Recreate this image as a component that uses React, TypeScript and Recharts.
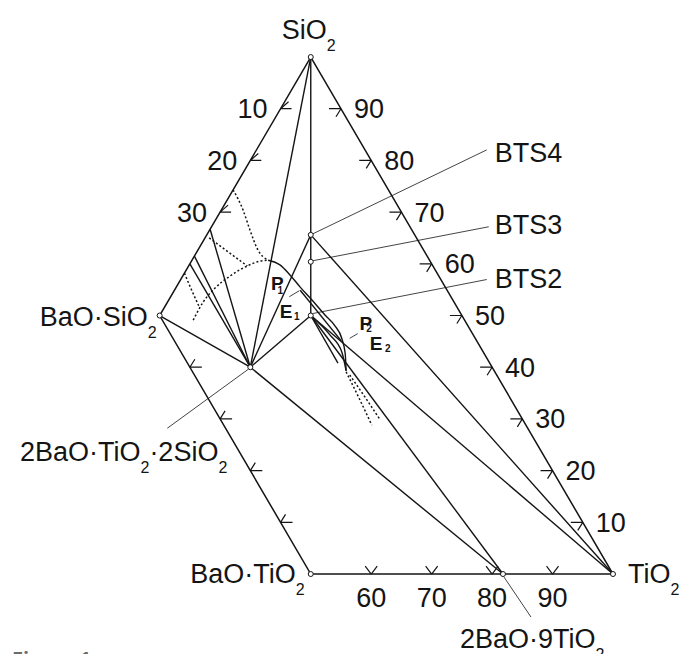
import { ComposedChart, Line, Scatter, XAxis, YAxis } from 'recharts';

const WIDTH = 681;
const HEIGHT = 654;
const INK = '#141414';
const FONT = '"Liberation Sans", Arial, sans-serif';

// Compositions in mol%: si = SiO2, ti = TiO2, BaO is the remainder.
const COMPOUNDS = [
  { name: 'SiO2', si: 100, ti: 0 },
  { name: 'TiO2', si: 0, ti: 100 },
  { name: 'BaO·SiO2', si: 50, ti: 0 },
  { name: 'BaO·TiO2', si: 0, ti: 50 },
  { name: '2BaO·9TiO2', si: 0, ti: 81.8 },
  { name: '2BaO·TiO2·2SiO2', si: 40, ti: 20 },
  { name: 'BTS4', si: 65.6, ti: 17.2 },
  { name: 'BTS3', si: 60.4, ti: 19.8 },
  { name: 'BTS2', si: 50, ti: 25 },
];

// silicate phases on the BaO–SiO2 side (no marker drawn)
const BARIUM_SILICATES = [
  { name: 'BaO·2SiO2', si: 66.7, ti: 0 },
  { name: '5BaO·8SiO2', si: 61.5, ti: 0 },
  { name: '2BaO·3SiO2', si: 60, ti: 0 },
];

const BORDER = ['SiO2', 'BaO·SiO2', 'BaO·TiO2', 'TiO2', 'SiO2'];

const TIE_LINES = [
  ['SiO2', '2BaO·TiO2·2SiO2'],
  ['SiO2', 'BTS2'],
  ['BaO·SiO2', '2BaO·TiO2·2SiO2'],
  ['BaO·2SiO2', '2BaO·TiO2·2SiO2'],
  ['5BaO·8SiO2', '2BaO·TiO2·2SiO2'],
  ['2BaO·3SiO2', '2BaO·TiO2·2SiO2'],
  ['2BaO·TiO2·2SiO2', 'BTS4'],
  ['2BaO·TiO2·2SiO2', 'BTS2'],
  ['2BaO·TiO2·2SiO2', '2BaO·9TiO2'],
  ['BTS4', 'TiO2'],
  ['BTS2', 'TiO2'],
  ['BTS2', '2BaO·9TiO2'],
];

// boundary curves, [SiO2, TiO2] pairs
const SOLID_CURVES = [
  [[60.7, 12.6], [59.8, 15.0], [57.8, 17.7], [55.5, 20.5], [53.0, 23.7], [50.1, 27.3], [48.0, 30.0], [45.5, 32.4], [42.6, 34.4], [39.3, 36.2]],
  [[54.9, 20.8], [45.1, 32.5]],
  [[50, 25], [46.2, 30.1], [42.9, 33.7], [39.3, 36.2]],
  [[50, 25], [40.8, 34.1]],
];

const DOTTED_CURVES = [
  [[49.1, 6.0], [52.6, 5.9], [55.3, 6.5], [57.6, 7.8], [59.6, 9.7], [60.5, 11.3], [60.7, 12.6]],
  [[74.3, 0], [70.4, 3.6], [66.5, 6.7], [62.7, 9.9], [60.7, 12.6]],
  [[65.0, 0.7], [62.3, 5.2], [59.6, 9.7]],
  [[58.2, 0], [55.3, 2.5], [51.8, 5.6]],
  [[39.1, 36.3], [34.0, 41.0], [28.8, 45.7]],
  [[38.5, 37.2], [34.0, 42.1], [29.8, 46.6]],
];

const INVARIANT_POINTS = [
  { name: 'P1', si: 55.2, ti: 20.6 },
  { name: 'E1', si: 50, ti: 25 },
  { name: 'P2', si: 45.3, ti: 32.6 },
  { name: 'E2', si: 39.3, ti: 36.2 },
];

const BAO_TICKS = [10, 20, 30];
const TIO2_SIDE_TICKS = [10, 20, 30, 40];
const SIO2_TICKS = [90, 80, 70, 60, 50, 40, 30, 20, 10];
const TIO2_BASE_TICKS = [60, 70, 80, 90];

// ternary -> cartesian (BaO·TiO2–TiO2 base horizontal)
const toXY = (c: { si: number; ti: number }) => ({ x: c.ti / 100 + c.si / 200, y: c.si / 100 });
const X_DOMAIN = [-0.0141, 1.1125];
const Y_DOMAIN = [-0.1547, 1.1103];

const PHASES = [...COMPOUNDS, ...BARIUM_SILICATES];
const phase = (name: string) => PHASES.find((p) => p.name === name)!;
const curve = (pts: number[][]) => pts.map(([si, ti]) => toXY({ si, ti }));

type Layout = { dx: number; dy: number; anchor: 'start' | 'middle' | 'end'; chem: boolean; leader?: number[] };
const LABEL_LAYOUT: Record<string, Layout> = {
  'SiO2': { dx: -29, dy: -18, anchor: 'start', chem: true },
  'BaO·SiO2': { dx: -3, dy: 10, anchor: 'end', chem: true },
  'BaO·TiO2': { dx: -6, dy: 9, anchor: 'end', chem: true },
  'TiO2': { dx: 15, dy: 9, anchor: 'start', chem: true },
  '2BaO·9TiO2': { dx: -43, dy: 74, anchor: 'start', chem: true, leader: [1, 3, 28, 43] },
  '2BaO·TiO2·2SiO2': { dx: -23, dy: 94, anchor: 'end', chem: true, leader: [-2, 2, -83, 61] },
  'BTS4': { dx: 184, dy: -73, anchor: 'start', chem: false, leader: [2, -1, 176, -85] },
  'BTS3': { dx: 184, dy: -28, anchor: 'start', chem: false, leader: [2, -1, 178, -35] },
  'BTS2': { dx: 184, dy: -27.5, anchor: 'start', chem: false, leader: [2, -2, 176, -36] },
};

const INVARIANT_LAYOUT: Record<string, { dx: number; dy: number; sdx: number; sdy: number; leader?: number[] }> = {
  P1: { dx: -29, dy: 1.5, sdx: -6, sdy: 3.5, leader: [-10.6, 8.1, -0.6, 2.1] },
  E1: { dx: -31, dy: 2.8, sdx: 1.5, sdy: 1.7 },
  P2: { dx: 17, dy: -9.8, sdx: -6, sdy: 2, leader: [7.2, -1.5, 15.2, -6.2] },
  E2: { dx: 23.7, dy: -20.8, sdx: 2.5, sdy: 1.7 },
};

// split a formula into normal text and subscript digits
const chemParts = (s: string) => {
  const parts: { t: string; sub: boolean }[] = [];
  for (let i = 0; i < s.length; i++) {
    const ch = s[i];
    const sub = /\d/.test(ch) && i > 0 && /[A-Za-z]/.test(s[i - 1]);
    const last = parts[parts.length - 1];
    if (last && last.sub === sub) last.t += ch;
    else parts.push({ t: ch, sub });
  }
  return parts;
};

const ChemText = ({ x, y, text, anchor, chem }: any) => {
  const parts = chem ? chemParts(text) : [{ t: text, sub: false }];
  let shifted = false;
  return (
    <text x={x} y={y} textAnchor={anchor} fontFamily={FONT} fontSize={27} fill={INK}>
      {parts.map((p, i) => {
        const dy = p.sub ? (shifted ? 0 : 12) : shifted ? -12 : 0;
        shifted = p.sub;
        return (
          <tspan key={i} dy={dy} fontSize={p.sub ? 16 : 27}>
            {p.t}
          </tspan>
        );
      })}
    </text>
  );
};

const CompoundLabel = (props: any) => {
  const { cx, cy, payload } = props;
  const l = LABEL_LAYOUT[payload.name];
  if (!l) return <g />;
  return (
    <g>
      {l.leader && (
        <line x1={cx + l.leader[0]} y1={cy + l.leader[1]} x2={cx + l.leader[2]} y2={cy + l.leader[3]} stroke={INK} strokeWidth={0.8} />
      )}
      <ChemText x={cx + l.dx} y={cy + l.dy} text={payload.name} anchor={l.anchor} chem={l.chem} />
    </g>
  );
};

const InvariantLabel = (props: any) => {
  const { cx, cy, payload } = props;
  const l = INVARIANT_LAYOUT[payload.name];
  return (
    <g>
      {l.leader && (
        <line x1={cx + l.leader[0]} y1={cy + l.leader[1]} x2={cx + l.leader[2]} y2={cy + l.leader[3]} stroke={INK} strokeWidth={0.8} />
      )}
      <text x={cx + l.dx} y={cy + l.dy} fontFamily={FONT} fontWeight="bold" fontSize={19} fill={INK}>
        {payload.name[0]}
        <tspan dx={l.sdx} dy={l.sdy} fontSize={10}>
          {payload.name.slice(1)}
        </tspan>
      </text>
    </g>
  );
};

const Marker = (props: any) => <circle cx={props.cx} cy={props.cy} r={2.5} fill="#fff" stroke={INK} strokeWidth={1} />;

const tickMark = (arms: number[][]) => (props: any) => {
  const { cx, cy } = props;
  const d = arms.map(([ax, ay]) => `M${cx},${cy}L${cx + ax},${cy + ay}`).join('');
  return <path d={d} stroke={INK} strokeWidth={1.2} fill="none" />;
};

const tickLabel = (dx: number, dy: number, anchor: string) => (props: any) => (
  <text x={props.cx + dx} y={props.cy + dy} textAnchor={anchor} fontFamily={FONT} fontSize={27} fill={INK}>
    {props.payload.value}
  </text>
);

const baoTicks = BAO_TICKS.map((v) => ({ ...toXY({ si: 100 - v, ti: 0 }), value: v }));
const tiSideTicks = TIO2_SIDE_TICKS.map((v) => ({ ...toXY({ si: 50 - v, ti: v }), value: v }));
const sio2Ticks = SIO2_TICKS.map((v) => ({ ...toXY({ si: v, ti: 100 - v }), value: v }));
const tiBaseTicks = TIO2_BASE_TICKS.map((v) => ({ ...toXY({ si: 0, ti: v }), value: v }));

const compoundPoints = COMPOUNDS.map((c) => ({ ...toXY(c), name: c.name }));
const invariantPoints = INVARIANT_POINTS.map((c) => ({ ...toXY(c), name: c.name }));

const noAnim = { isAnimationActive: false };

export default function App() {
  return (
    <div style={{ position: 'absolute', left: 0, top: 0, width: WIDTH, height: HEIGHT, overflow: 'hidden', background: '#fff' }}>
      <ComposedChart width={WIDTH} height={HEIGHT} margin={{ top: 0, right: 0, bottom: 0, left: 0 }}>
        <XAxis type="number" dataKey="x" domain={X_DOMAIN} allowDataOverflow hide />
        <YAxis type="number" dataKey="y" domain={Y_DOMAIN} allowDataOverflow hide />

        <Line data={BORDER.map((n) => toXY(phase(n)))} dataKey="y" type="linear" stroke={INK} strokeWidth={1.5} dot={false} activeDot={false} {...noAnim} />
        {TIE_LINES.map(([a, b], i) => (
          <Line key={`tie-${i}`} data={[toXY(phase(a)), toXY(phase(b))]} dataKey="y" type="linear" stroke={INK} strokeWidth={1.4} dot={false} activeDot={false} {...noAnim} />
        ))}
        {SOLID_CURVES.map((c, i) => (
          <Line key={`solid-${i}`} data={curve(c)} dataKey="y" type="monotone" stroke={INK} strokeWidth={1.4} dot={false} activeDot={false} {...noAnim} />
        ))}
        {DOTTED_CURVES.map((c, i) => (
          <Line key={`dot-${i}`} data={curve(c)} dataKey="y" type="monotone" stroke={INK} strokeWidth={1.5} strokeDasharray="2 2.2" dot={false} activeDot={false} {...noAnim} />
        ))}

        <Scatter data={baoTicks} shape={tickMark([[11, 0], [8, -7]])} {...noAnim} />
        <Scatter data={tiSideTicks} shape={tickMark([[12, 0], [5, -8]])} {...noAnim} />
        <Scatter data={sio2Ticks} shape={tickMark([[-12, 0], [-5, 8]])} {...noAnim} />
        <Scatter data={tiBaseTicks} shape={tickMark([[-6, -8], [6, -8]])} {...noAnim} />

        <Scatter data={baoTicks} shape={tickLabel(-13, 9.5, 'end')} {...noAnim} />
        <Scatter data={sio2Ticks} shape={tickLabel(13, 9.5, 'start')} {...noAnim} />
        <Scatter data={tiBaseTicks} shape={tickLabel(0, 33, 'middle')} {...noAnim} />

        <Scatter data={compoundPoints} shape={CompoundLabel} {...noAnim} />
        <Scatter data={invariantPoints} shape={InvariantLabel} {...noAnim} />
        <Scatter data={compoundPoints} shape={Marker} {...noAnim} />
      </ComposedChart>
      <div
        style={{
          position: 'absolute',
          left: 12,
          top: 649,
          fontFamily: '"Open Sans", sans-serif',
          fontWeight: 700,
          fontSize: 20,
          lineHeight: '20px',
          color: '#6b6b6b',
        }}
      >
        Figure 1
      </div>
    </div>
  );
}
